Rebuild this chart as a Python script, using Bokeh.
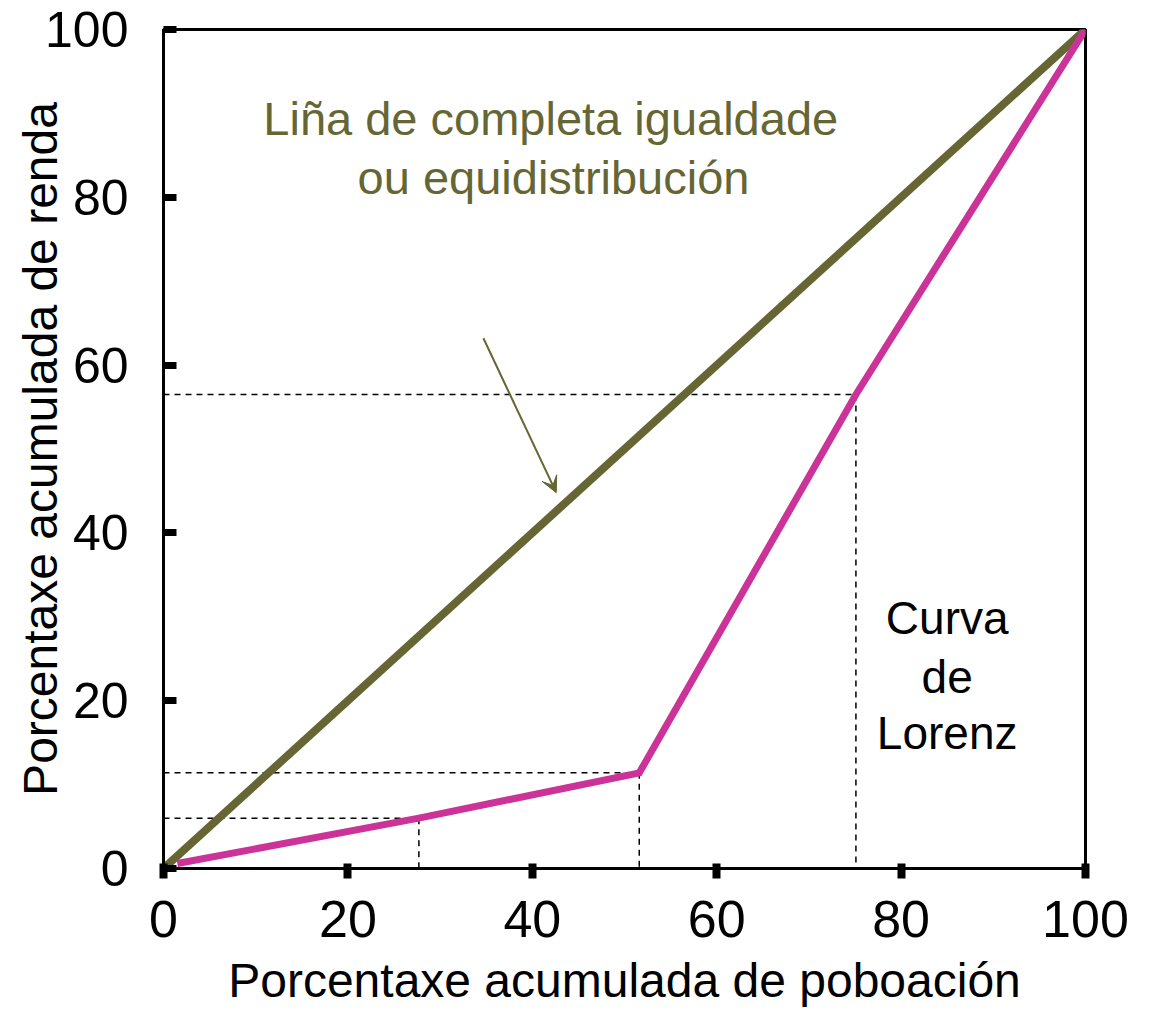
from bokeh.plotting import figure
from bokeh.models import Range1d, FixedTicker, Label, Arrow, VeeHead, ColumnDataSource
from bokeh.embed import file_html
from bokeh.resources import INLINE

# ---- data ----
equality_x = [0, 100]
equality_y = [0, 100]

lorenz_x = [1.5, 27.7, 51.6, 75.1, 100]
lorenz_y = [0.6, 6.0, 11.4, 56.5, 100]

guide_x = [27.7, 51.6, 75.1]
guide_y = [6.0, 11.4, 56.5]

x_ticks = [0, 20, 40, 60, 80, 100]
y_ticks = [0, 20, 40, 60, 80, 100]

x_title = "Porcentaxe acumulada de poboación"
y_title = "Porcentaxe acumulada de renda"

equality_text = ["Liña de completa igualdade", "ou equidistribución"]
lorenz_text = ["Curva", "de", "Lorenz"]

OLIVE = "#656633"
PINK = "#cc3399"
FONT = "Liberation Sans"

p = figure(width=1148, height=1010, output_backend="svg", toolbar_location=None,
           x_range=Range1d(0, 100), y_range=Range1d(0, 100),
           min_border_left=163, min_border_right=63, min_border_top=29, min_border_bottom=142)

p.xgrid.visible = False
p.ygrid.visible = False
p.outline_line_color = "black"
p.outline_line_width = 3
p.outline_line_alpha = 1.0

# axes
p.xaxis.ticker = FixedTicker(ticks=x_ticks)
p.yaxis.ticker = FixedTicker(ticks=y_ticks)
for ax in (p.xaxis, p.yaxis):
    ax.axis_line_width = 3
    ax.axis_line_color = "black"
    ax.major_tick_line_color = "black"
    ax.minor_tick_line_color = None
    ax.major_label_text_font = FONT
    ax.major_label_text_color = "black"
    ax.axis_label_text_font = FONT
    ax.axis_label_text_font_style = "normal"
    ax.axis_label_text_color = "black"
    ax.axis_label_text_font_size = "48px"

p.xaxis.major_tick_in = 5
p.xaxis.major_tick_out = 10
p.xaxis.major_tick_line_width = 8
p.xaxis.major_label_text_font_size = "52px"
p.xaxis.major_label_standoff = 22
p.xaxis.axis_label = x_title
p.xaxis.axis_label_standoff = 14

p.yaxis.major_tick_in = 13
p.yaxis.major_tick_out = 0
p.yaxis.major_tick_line_width = 7
p.yaxis.major_label_text_font_size = "50px"
p.yaxis.major_label_standoff = 35
p.yaxis.axis_label = y_title
p.yaxis.axis_label_standoff = -25

# dashed guide lines
guides = ColumnDataSource(dict(
    hx0=[0] * len(guide_x), hy0=guide_y, hx1=guide_x, hy1=guide_y,
    vx0=guide_x, vy0=guide_y, vx1=guide_x, vy1=[0] * len(guide_x),
))
p.segment("hx0", "hy0", "hx1", "hy1", source=guides, line_color="black",
          line_width=1.5, line_dash="6 5")
p.segment("vx0", "vy0", "vx1", "vy1", source=guides, line_color="black",
          line_width=1.5, line_dash="6 5")

# lines
p.line(equality_x, equality_y, line_color=OLIVE, line_width=8)
p.line(lorenz_x, lorenz_y, line_color=PINK, line_width=7, line_join="miter")

# annotations
p.add_layout(Label(x=42.0, y=89.4, text=equality_text[0], text_font=FONT,
                   text_font_size="47px", text_color=OLIVE,
                   text_align="center", text_baseline="middle"))
p.add_layout(Label(x=42.3, y=82.4, text=equality_text[1], text_font=FONT,
                   text_font_size="47px", text_color=OLIVE,
                   text_align="center", text_baseline="middle"))
for t, yy in zip(lorenz_text, [29.9, 22.8, 16.1]):
    p.add_layout(Label(x=85.0, y=yy, text=t, text_font=FONT,
                       text_font_size="46px", text_color="black",
                       text_align="center", text_baseline="middle"))

p.add_layout(Arrow(end=VeeHead(size=16, fill_color=OLIVE, line_color=OLIVE, line_width=1),
                   x_start=34.7, y_start=63.2, x_end=42.6, y_end=44.8,
                   line_color=OLIVE, line_width=2))

open("out.html", "w").write(file_html(p, INLINE))
